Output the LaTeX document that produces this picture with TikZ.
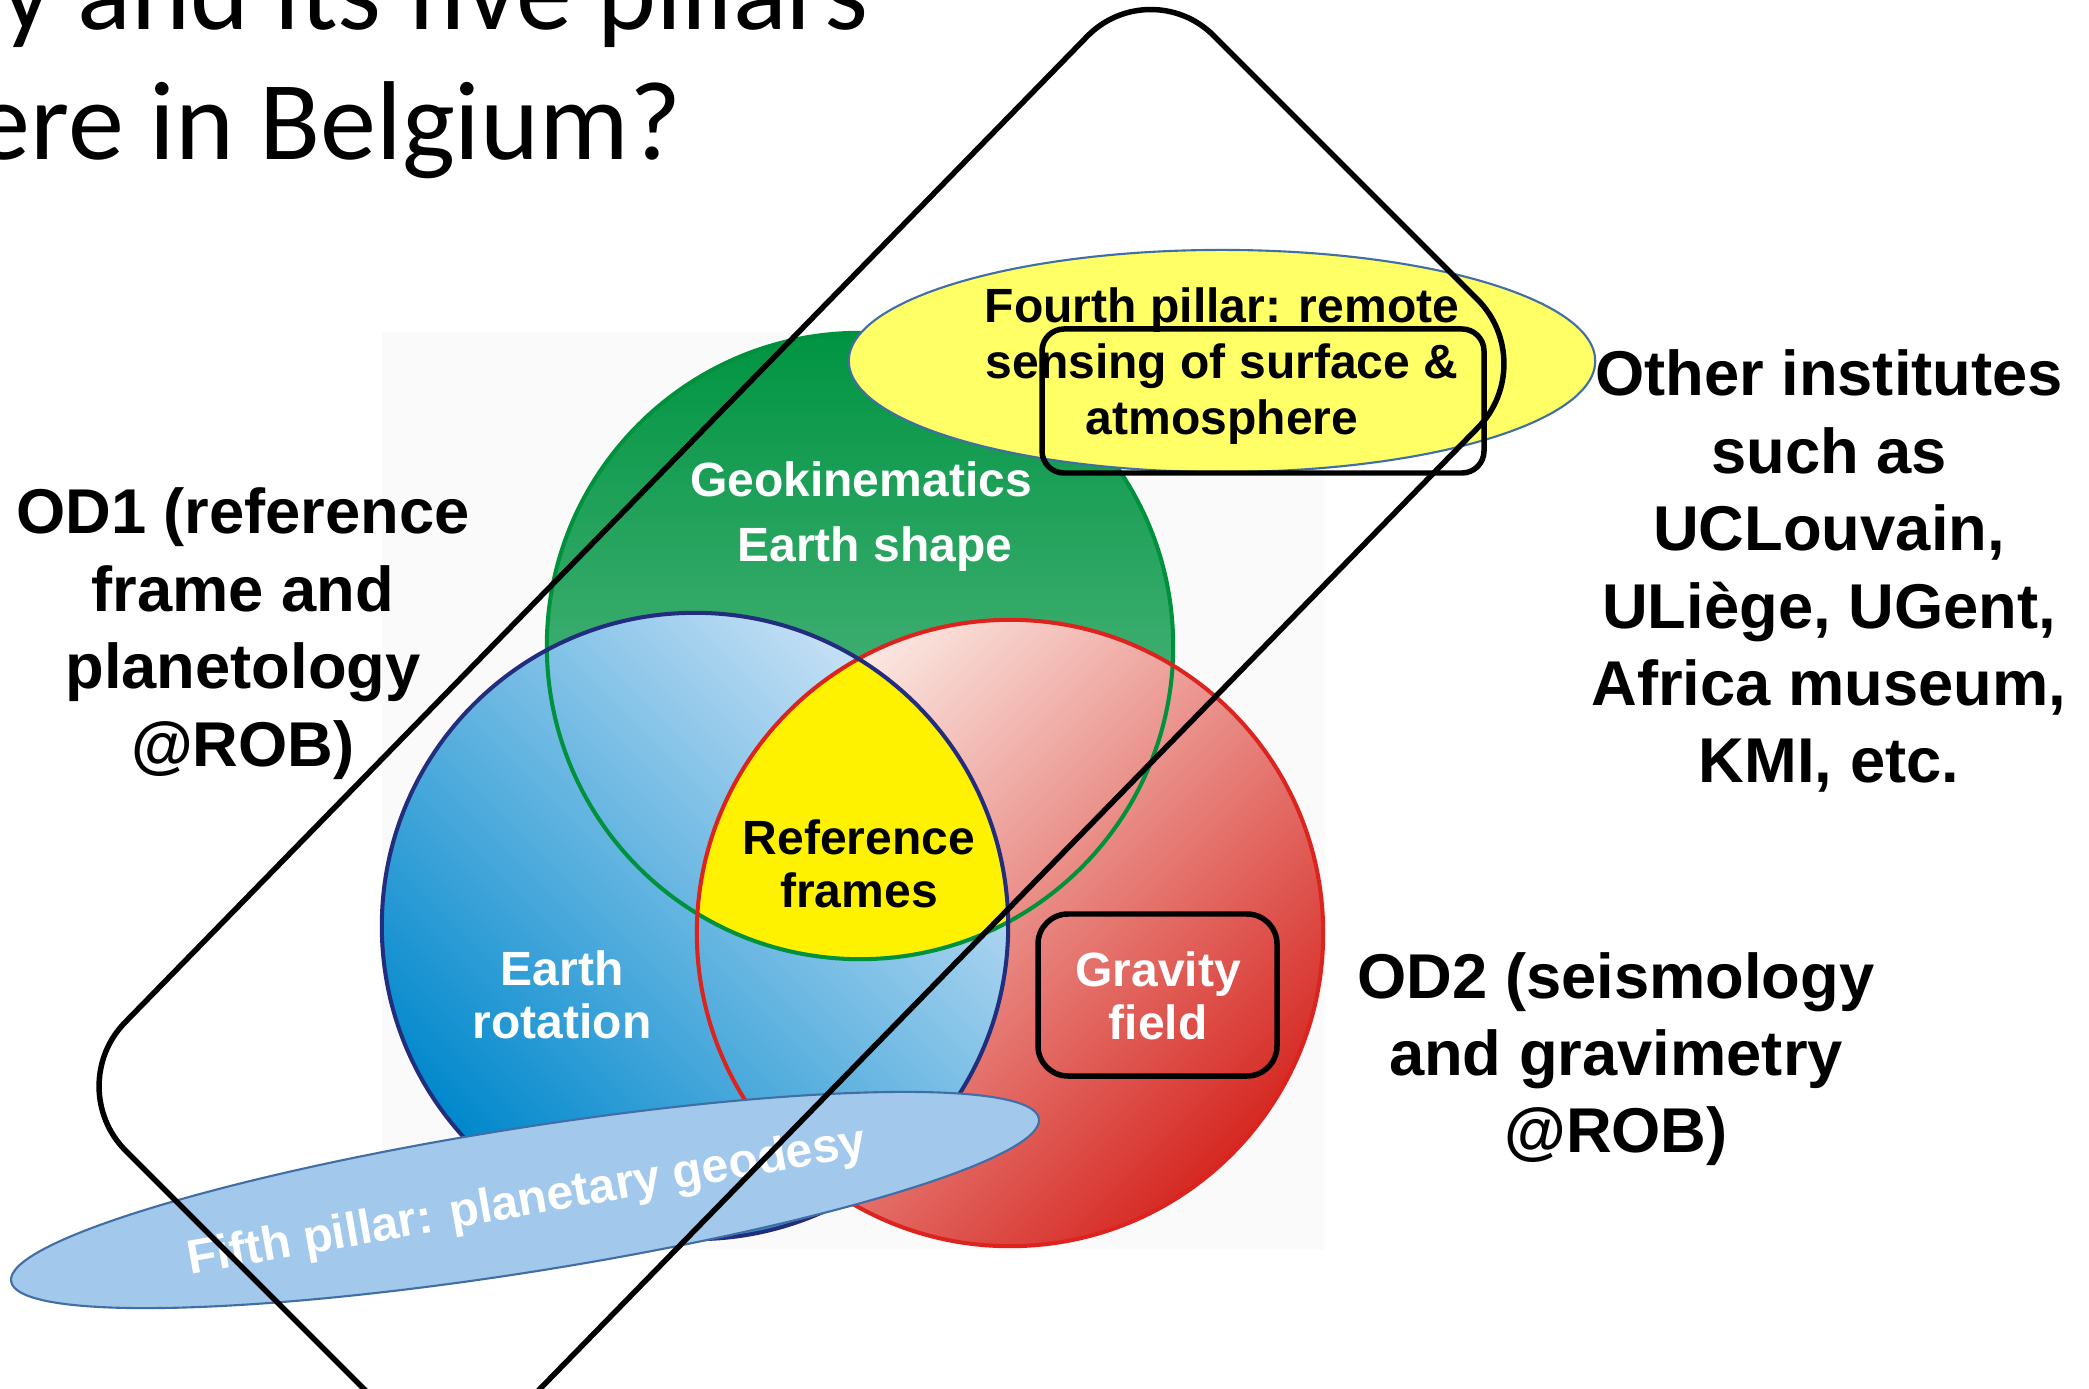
\documentclass[tikz,border=0pt]{standalone}
\usepackage{fontspec}
\setmainfont{Liberation Sans}
\newfontfamily\titlefont{Carlito}
\definecolor{grnD}{RGB}{0,148,66}
\definecolor{grnL}{RGB}{115,196,152}
\definecolor{grnE}{RGB}{0,145,60}
\definecolor{bluD}{RGB}{0,136,204}
\definecolor{bluL}{RGB}{200,225,246}
\definecolor{bluE}{RGB}{35,45,125}
\definecolor{redD}{RGB}{214,40,34}
\definecolor{redL}{RGB}{252,236,230}
\definecolor{redE}{RGB}{220,35,30}
\definecolor{yelC}{RGB}{255,242,0}
\definecolor{yelP}{RGB}{255,255,102}
\definecolor{ellE}{RGB}{65,110,165}
\definecolor{fifthC}{RGB}{162,201,235}
\definecolor{bgimg}{RGB}{250,250,250}
\newcommand{\mystack}[1]{\begin{tabular}[t]{@{}c@{}}#1\end{tabular}}
\tikzset{
  bigtxt/.style={font=\fontsize{18}{22}\selectfont\bfseries, inner sep=0pt, anchor=base},
  intxt/.style={font=\fontsize{13.66}{15.1}\selectfont\bfseries, inner sep=0pt, anchor=base},
  ttl/.style={font=\titlefont\fontsize{31.9}{37}\selectfont, inner sep=0pt, anchor=base east},
  boxline/.style={draw=black, line width=1.56pt},
  venline/.style={line width=1.15pt},
  pillar/.style={line width=0.6pt, draw=ellE}
}
\begin{document}
\begin{tikzpicture}[x=0.01cm,y=-0.01cm]
\useasboundingbox (0,0) rectangle (2089,1389);
\fill[white] (0,0) rectangle (2089,1389);
% faint backdrop of the Venn picture
\fill[bgimg] (382,332) rectangle (1325,1250);
% title
\node[ttl] (t1) at (869,30) {y and its five pillars};
\node[ttl] (t2) at (682,160) {ere in Belgium?};
% circle centres
\coordinate (cg) at (860,646);
\coordinate (cb) at (695,926);
\coordinate (cr) at (1010,933);
% fills
\shade[top color=grnD, bottom color=grnL] (cg) circle [radius=3.13cm];
\shade[top color=redL, bottom color=redD, shading angle=45] (cr) circle [radius=3.13cm];
\shade[top color=bluL, bottom color=bluD, shading angle=-45] (cb) circle [radius=3.13cm];
\begin{scope}
  \clip (cg) circle [radius=3.13cm];
  \clip (cr) circle [radius=3.13cm];
  \fill[yelC] (cb) circle [radius=3.13cm];
\end{scope}
% outlines
\draw[venline, draw=grnE] (cg) circle [radius=3.13cm];
\draw[venline, draw=redE] (cr) circle [radius=3.13cm];
\draw[venline, draw=bluE] (cb) circle [radius=3.13cm];
% labels in the Venn diagram
\node[intxt, text=white] (geo) at (861,497) {Geokinematics};
\node[intxt, text=white] (shape) at (875,562) {Earth shape};
\node[intxt] (ref) at (859,854) {\mystack{Reference\\frames}};
\node[intxt, text=white] (rot) at (562,985) {\mystack{Earth\\rotation}};
\node[intxt, text=white] (grav) at (1158,986) {\mystack{Gravity\\field}};
\draw[boxline, rounded corners=0.3cm] (1038,914) rectangle (1277,1076);
% fourth pillar
\fill[yelP] (1222,361) ellipse [x radius=3.73cm, y radius=1.11cm];
\draw[pillar] (1222,361) ellipse [x radius=3.73cm, y radius=1.11cm];
\node[intxt, font=\fontsize{13.66}{15.9}\selectfont\bfseries] (fourth) at (1222,323)
  {\mystack{Fourth pillar: remote\\sensing of surface \&\\atmosphere}};
\draw[boxline, rounded corners=0.22cm] (1042,329) rectangle (1484,473);
% fifth pillar
\fill[fifthC, rotate around={9:(525,1200)}] (525,1200) ellipse [x radius=5.2cm, y radius=0.72cm];
\draw[pillar, rotate around={9:(525,1200)}] (525,1200) ellipse [x radius=5.2cm, y radius=0.72cm];
\node[intxt, text=white, anchor=center, rotate=10] (fifth) at (527,1203) {Fifth pillar: planetary geodesy};
% big rotated rounded frame
\draw[boxline, rounded corners=0.9cm] (1150,-28) -- (1541,363) -- (453,1478) -- (62,1087) -- cycle;
% outer labels
\node[bigtxt] (od1) at (243,534) {\mystack{OD1 (reference\\frame and\\planetology\\@ROB)}};
\node[bigtxt] (od2) at (1616,998) {\mystack{OD2 (seismology\\and gravimetry\\@ROB)}};
\node[bigtxt] (oth) at (1829,396) {\mystack{Other institutes\\such as\\UCLouvain,\\ULiège, UGent,\\Africa museum,\\KMI, etc.}};
\end{tikzpicture}
\end{document}
